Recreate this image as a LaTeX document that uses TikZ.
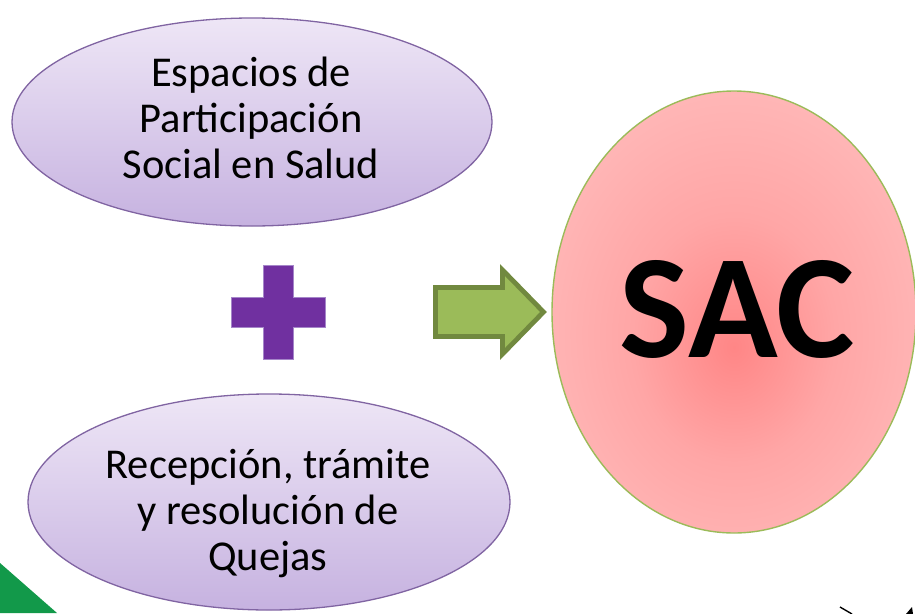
\documentclass[tikz,border=0pt]{standalone}
\usepackage{fontspec}
\setmainfont{Carlito}
\usetikzlibrary{shapes.geometric}
\definecolor{lavtop}{HTML}{EEE6F6}
\definecolor{lavbot}{HTML}{C6B2E0}
\definecolor{lavline}{HTML}{8064A2}
\definecolor{plusfill}{HTML}{7030A0}
\definecolor{plusline}{HTML}{A586C9}
\definecolor{arrfill}{HTML}{9BBB59}
\definecolor{arrline}{HTML}{71893F}
\definecolor{sacin}{HTML}{FF8686}
\definecolor{sacmid}{HTML}{FFA6A6}
\definecolor{sacout}{HTML}{FFC6C6}
\definecolor{sacline}{HTML}{9BBB59}
\definecolor{bggreen}{HTML}{12994A}
\pgfdeclareradialshading{sacshade}{\pgfpoint{0bp}{-4bp}}{color(0bp)=(sacin); color(14bp)=(sacmid); color(40bp)=(sacout); color(60bp)=(sacout)}
\tikzset{
  lavellipse/.style={ellipse, draw=lavline, line width=1.3pt, top color=lavtop, bottom color=lavbot, inner sep=0pt},
  bodytext/.style={align=center, inner sep=0pt, font=\fontsize{42.5}{46}\selectfont},
  sacellipse/.style={ellipse, draw=sacline, line width=1.4pt, shading=sacshade, inner sep=0pt},
}
\begin{document}
\begin{tikzpicture}[x=1pt,y=-1pt]
\useasboundingbox (0,0) rectangle (915,613);
\clip (0,0) rectangle (915,613);
% background fragment
\fill[bggreen] (0,563) -- (57,613) -- (0,613) -- cycle;
% ellipses
\node[lavellipse, minimum width=480pt, minimum height=208pt] (e1) at (252,122) {};
\node[bodytext] (t1) at (251,118) {Espacios de\\Participación\\Social en Salud};
\node[lavellipse, minimum width=482pt, minimum height=216pt] (e2) at (269,502) {};
\node[bodytext] (t2) at (268,514) {Recepción, trámite\\y resolución de\\Quejas};
\node[sacellipse, minimum width=364pt, minimum height=442pt] (sac) at (734,312) {};
\node[inner sep=0pt, font=\fontsize{148}{150}\selectfont\bfseries] (sact) at (737,309) {SAC};
% plus sign
\path[fill=plusfill, draw=plusline, line width=0.8pt]
  (263,265) -- (293,265) -- (293,297) -- (325,297) -- (325,327) -- (293,327)
  -- (293,359) -- (263,359) -- (263,327) -- (231,327) -- (231,297) -- (263,297) -- cycle;
% block arrow
\path[fill=arrfill, draw=arrline, line width=4.8pt, line join=miter]
  (435.5,287.5) -- (502.5,287.5) -- (502.5,270) -- (543.5,312) -- (502.5,354)
  -- (502.5,336.5) -- (435.5,336.5) -- cycle;
% clipped marks at bottom right
\draw[black, line width=1.4pt] (840,607) -- (852,614);
\fill[black] (906,614) -- (912,607) -- (913,614) -- cycle;
\end{tikzpicture}
\end{document}
